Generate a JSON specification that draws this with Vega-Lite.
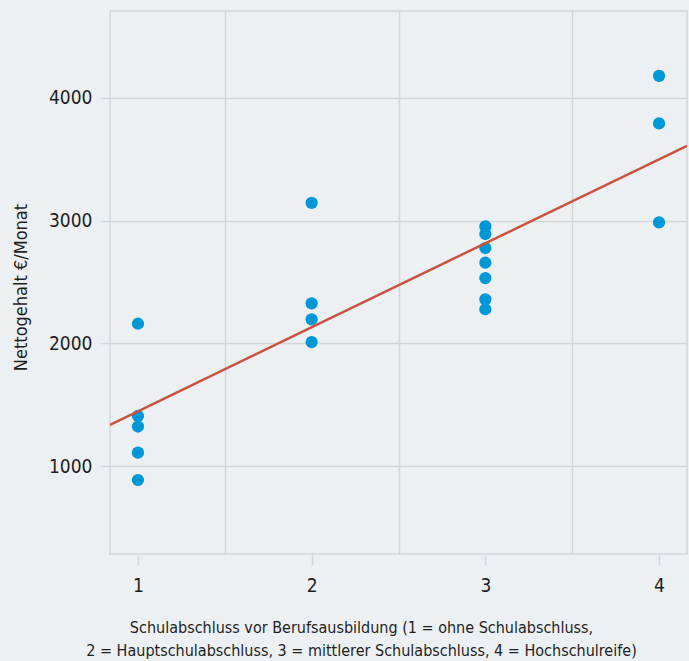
{
  "$schema": "https://vega.github.io/schema/vega-lite/v6.json",
  "width": 577,
  "height": 543,
  "autosize": "none",
  "padding": {"left": 110, "top": 11, "right": 2, "bottom": 107},
  "background": "#ecf0f3",
  "config": {
    "view": {"fill": "#ecf0f3", "stroke": "#d3d6d9", "strokeWidth": 1.5},
    "font": "DejaVu Sans Condensed, sans-serif",
    "axis": {
      "labelFont": "DejaVu Sans Condensed, sans-serif",
      "titleFont": "DejaVu Sans Condensed, sans-serif",
      "labelColor": "#1e1e1e",
      "titleColor": "#1e1e1e",
      "gridColor": "#d3d6d9",
      "gridWidth": 1.5,
      "tickColor": "#d3d6d9",
      "tickWidth": 1.5,
      "domain": false
    }
  },
  "data": {
    "values": [
      {"abschluss": 1, "gehalt": 2160},
      {"abschluss": 1, "gehalt": 1408},
      {"abschluss": 1, "gehalt": 1322},
      {"abschluss": 1, "gehalt": 1109},
      {"abschluss": 1, "gehalt": 886},
      {"abschluss": 2, "gehalt": 3145},
      {"abschluss": 2, "gehalt": 2326},
      {"abschluss": 2, "gehalt": 2196},
      {"abschluss": 2, "gehalt": 2010},
      {"abschluss": 3, "gehalt": 2953},
      {"abschluss": 3, "gehalt": 2891},
      {"abschluss": 3, "gehalt": 2777},
      {"abschluss": 3, "gehalt": 2657},
      {"abschluss": 3, "gehalt": 2532},
      {"abschluss": 3, "gehalt": 2359},
      {"abschluss": 3, "gehalt": 2278},
      {"abschluss": 4, "gehalt": 4180},
      {"abschluss": 4, "gehalt": 3793},
      {"abschluss": 4, "gehalt": 2986}
    ]
  },
  "encoding": {
    "x": {
      "field": "abschluss",
      "type": "quantitative",
      "scale": {"domain": [0.839, 4.161], "nice": false, "zero": false},
      "axis": {
        "values": [1, 1.5, 2, 2.5, 3, 3.5, 4],
        "grid": true,
        "gridOpacity": {"condition": {"test": "datum.value % 1 !== 0", "value": 1}, "value": 0},
        "tickOpacity": {"condition": {"test": "datum.value % 1 === 0", "value": 1}, "value": 0},
        "labelExpr": "datum.value % 1 === 0 ? format(datum.value, 'd') : ''",
        "tickSize": 10,
        "offset": 1,
        "labelPadding": 11,
        "labelFontSize": 19,
        "title": ["Schulabschluss vor Berufsausbildung (1 = ohne Schulabschluss,", "2 = Hauptschulabschluss, 3 = mittlerer Schulabschluss, 4 = Hochschulreife)"],
        "titleFontSize": 16,
        "titleFontWeight": "normal",
        "titleLineHeight": 23,
        "titleX": 251,
        "titleY": 77,
        "titleBaseline": "alphabetic",
        "titleAlign": "center",
        "titleAnchor": null
      }
    },
    "y": {
      "field": "gehalt",
      "type": "quantitative",
      "scale": {"domain": [283, 4709], "nice": false, "zero": false},
      "axis": {
        "values": [1000, 2000, 3000, 4000],
        "format": "d",
        "grid": true,
        "tickSize": 10,
        "labelPadding": 8,
        "labelFontSize": 19,
        "title": "Nettogehalt €/Monat",
        "titleFontSize": 18,
        "titleFontWeight": "normal",
        "titleX": -89,
        "titleY": 276,
        "titleAngle": -90,
        "titleAlign": "center",
        "titleBaseline": "middle"
      }
    }
  },
  "layer": [
    {
      "mark": {"type": "point", "filled": true, "size": 150, "color": "#0097d7", "opacity": 1, "shape": "circle"}
    },
    {
      "transform": [{"regression": "gehalt", "on": "abschluss", "extent": [0.839, 4.161]}],
      "mark": {"type": "line", "color": "#c9533f", "strokeWidth": 2.5, "clip": true}
    }
  ]
}
